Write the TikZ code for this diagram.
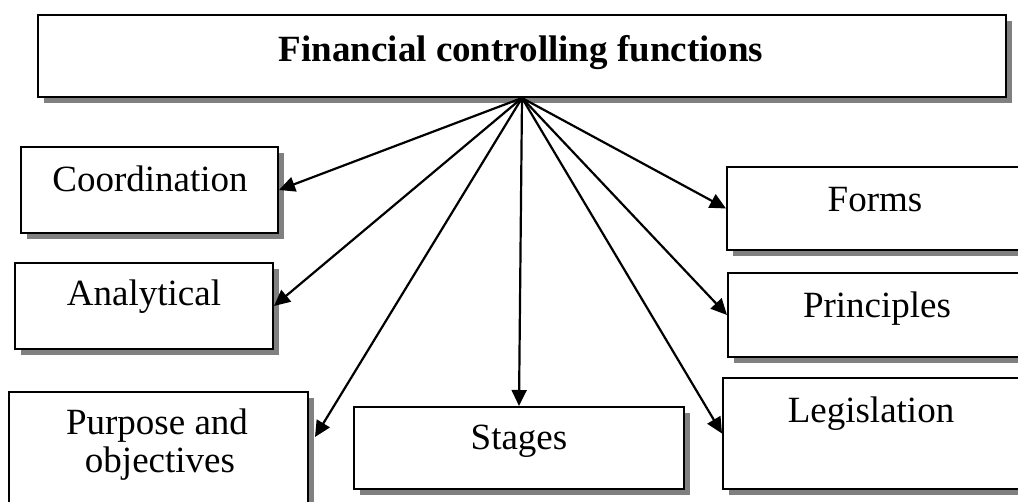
\documentclass[tikz,border=0pt]{standalone}
\usepackage{fontspec}
\setmainfont{Liberation Serif}
\usetikzlibrary{shadows,arrows.meta,calc}
\begin{document}
\begin{tikzpicture}[x=1pt,y=-1pt,
  box/.style={draw=black, line width=2pt, fill=white, inner sep=0pt,
    drop shadow={shadow xshift=6pt, shadow yshift=-6pt, fill=black!50, opacity=1}},
  lbl/.style={anchor=base, inner sep=0pt, font=\fontsize{37}{44}\selectfont},
  arr/.style={line width=2.2pt, -{Triangle[length=16pt,width=15pt]}}]
\useasboundingbox (0,0) rectangle (1018,502);
\clip (0,0) rectangle (1018,502);
% boxes
\node[box, minimum width=968pt, minimum height=82pt] (top) at (522,56) {};
\node[box, minimum width=257pt, minimum height=86pt] (coord) at (149.5,190) {};
\node[box, minimum width=258pt, minimum height=86pt] (anal) at (144,306) {};
\node[box, minimum width=299pt, minimum height=148pt] (purp) at (158.5,466) {};
\node[box, minimum width=330pt, minimum height=82pt] (stag) at (519,448) {};
\node[box, minimum width=320pt, minimum height=83pt] (form) at (887,208.5) {};
\node[box, minimum width=320pt, minimum height=84pt] (prin) at (888,315) {};
\node[box, minimum width=320pt, minimum height=111pt] (legi) at (883,433.5) {};
% texts
\node[lbl, font=\fontsize{37}{44}\selectfont\bfseries] (ttop) at (521,62) {Financial controlling functions};
\node[lbl] (tcoord) at (150,192) {Coordination};
\node[lbl] (tanal) at (144,306) {Analytical};
\node[lbl] (tpurp1) at (157,435) {Purpose and};
\node[lbl] (tpurp2) at (160,473) {objectives};
\node[lbl] (tstag) at (519,450) {Stages};
\node[lbl] (tform) at (875,212) {Forms};
\node[lbl] (tprin) at (877,318) {Principles};
\node[lbl] (tlegi) at (871,423) {Legislation};
% connectors
\coordinate (ptip) at (315,437);
\draw[arr] (top.south) -- (coord.east);
\draw[arr] (top.south) -- (anal.east);
\draw[arr] (top.south) -- (ptip);
\draw[arr] (top.south) -- (stag.north);
\draw[arr] (top.south) -- (form.west);
\draw[arr] (top.south) -- (prin.west);
\draw[arr] (top.south) -- (legi.west);
\end{tikzpicture}
\end{document}
